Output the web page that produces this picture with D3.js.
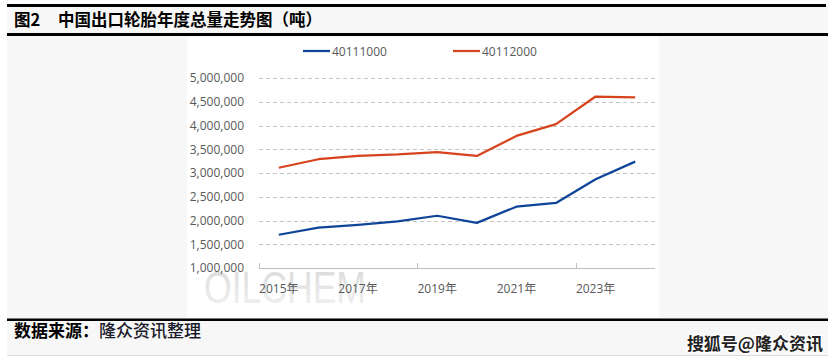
<!DOCTYPE html>
<html>
<head>
<meta charset="utf-8">
<script src="https://cdn.jsdelivr.net/npm/d3@7"></script>
<style>
  body { margin: 0; background: #ffffff; }
  svg { display: block; }
</style>
</head>
<body>
<script>
// data (tonnes)
var years = ["2015年", "2016年", "2017年", "2018年", "2019年", "2020年", "2021年", "2022年", "2023年", "2024年"];
var seriesNames = ["40111000", "40112000"];
var seriesColors = ["#0f4598", "#d7431d"];
var s40111000 = [1700000, 1850000, 1910000, 1980000, 2100000, 1950000, 2290000, 2370000, 2870000, 3240000];
var s40112000 = [3110000, 3290000, 3360000, 3390000, 3440000, 3360000, 3780000, 4030000, 4610000, 4590000];
var yTicks = [1000000, 1500000, 2000000, 2500000, 3000000, 3500000, 4000000, 4500000, 5000000];
var xLabels = ["2015年", "2017年", "2019年", "2021年", "2023年"];

var W = 836, H = 361;
var cjk = "'Noto Sans CJK SC', sans-serif";
var num = "'Open Sans', 'Noto Sans CJK SC', sans-serif";

var svg = d3.select("body").append("svg")
	.attr("width", W)
	.attr("height", H);

// page frame
svg.append("rect").attr("x", 7).attr("y", 4).attr("width", 821).attr("height", 351).attr("fill", "#f7f7f7");
svg.append("line").attr("x1", 7).attr("x2", 828).attr("y1", 355.5).attr("y2", 355.5).attr("stroke", "#dcdcdc");
svg.append("rect").attr("x", 187).attr("y", 37).attr("width", 472).attr("height", 281).attr("fill", "#ffffff");

svg.append("rect").attr("x", 7).attr("y", 4).attr("width", 819).attr("height", 3).attr("fill", "#000");
svg.append("rect").attr("x", 7).attr("y", 33).attr("width", 821).attr("height", 3).attr("fill", "#000");
svg.append("rect").attr("x", 7).attr("y", 318.5).attr("width", 821).attr("height", 2.5).attr("fill", "#000");

var title = svg.append("text")
	.attr("x", 14).attr("y", 26)
	.style("font-family", cjk).style("font-weight", 700).style("font-size", "16.5px")
	.attr("fill", "#000");
title.append("tspan").text("图2");
title.append("tspan").attr("x", 58).text("中国出口轮胎年度总量走势图（吨）");

var foot = svg.append("text")
	.attr("x", 14).attr("y", 337)
	.style("font-family", cjk).style("font-size", "17px")
	.attr("fill", "#000");
foot.append("tspan").style("font-weight", 700).text("数据来源：");
foot.append("tspan").style("font-weight", 500).attr("fill", "#1a1a2a").text("隆众资讯整理");

svg.append("text")
	.attr("x", 823).attr("y", 350)
	.attr("text-anchor", "end")
	.style("font-family", cjk).style("font-weight", 700).style("font-size", "17px")
	.attr("fill", "#222")
	.attr("stroke", "#ffffff").attr("stroke-width", 2.5).attr("paint-order", "stroke")
	.text("搜狐号@隆众资讯");

// watermark
var grad = svg.append("defs").append("linearGradient")
	.attr("id", "wm").attr("x1", 0).attr("x2", 0).attr("y1", 0).attr("y2", 1);
grad.append("stop").attr("offset", "0%").attr("stop-color", "#d9d9d9");
grad.append("stop").attr("offset", "100%").attr("stop-color", "#f2f2f2");

svg.append("text")
	.attr("x", 204).attr("y", 303)
	.attr("textLength", 162).attr("lengthAdjust", "spacingAndGlyphs")
	.style("font-family", "'Liberation Sans', sans-serif").style("font-size", "44px")
	.attr("fill", "url(#wm)")
	.text("OILCHEM");

// scales
var x = d3.scaleBand().domain(years).range([259, 655]);
var y = d3.scaleLinear().domain([1000000, 5000000]).range([268, 78]);

function cx(d) { return x(d) + x.bandwidth() / 2; }

// grid
svg.append("g").selectAll("line")
	.data(yTicks.slice(1))
	.enter().append("line")
	.attr("x1", 259).attr("x2", 655)
	.attr("y1", function(d) { return Math.round(y(d)) + 0.5; })
	.attr("y2", function(d) { return Math.round(y(d)) + 0.5; })
	.attr("stroke", "#c4c4c4")
	.attr("stroke-dasharray", "4,3");

// y axis labels (no axis line)
var yAxis = d3.axisLeft(y)
	.tickValues(yTicks)
	.tickSize(0)
	.tickPadding(0)
	.tickFormat(d3.format(","));

var yg = svg.append("g")
	.attr("transform", "translate(244,0)")
	.call(yAxis);
yg.select(".domain").remove();
yg.selectAll("text")
	.style("font-family", num).style("font-size", "12px")
	.attr("fill", "#595959");

// x axis
var xAxis = d3.axisBottom(x)
	.tickValues(xLabels)
	.tickSize(0)
	.tickPadding(16);

var xg = svg.append("g")
	.attr("transform", "translate(0,268)")
	.call(xAxis);
xg.select(".domain").attr("stroke", "#bfbfbf").attr("d", "M259,0.5H655");
xg.selectAll("text")
	.style("font-family", num).style("font-size", "12px")
	.attr("fill", "#595959");

// category tick marks every 4 categories
svg.append("g").selectAll("line")
	.data([years[0], years[4], years[8]])
	.enter().append("line")
	.attr("x1", function(d) { return Math.round(x(d)) + 0.5; })
	.attr("x2", function(d) { return Math.round(x(d)) + 0.5; })
	.attr("y1", 263).attr("y2", 268)
	.attr("stroke", "#bfbfbf");

// lines
var line = d3.line()
	.x(function(d, i) { return cx(years[i]); })
	.y(function(d) { return y(d); });

[s40111000, s40112000].forEach(function(s, k) {
	svg.append("path")
		.datum(s)
		.attr("fill", "none")
		.attr("stroke", seriesColors[k])
		.attr("stroke-width", 2.25)
		.attr("stroke-linejoin", "round")
		.attr("d", line);
});

// legend
var legendX = [303, 453];
seriesNames.forEach(function(n, k) {
	svg.append("line")
		.attr("x1", legendX[k]).attr("x2", legendX[k] + 27)
		.attr("y1", 51).attr("y2", 51)
		.attr("stroke", seriesColors[k]).attr("stroke-width", 2.25);
	svg.append("text")
		.attr("x", legendX[k] + 29).attr("y", 55.5)
		.style("font-family", num).style("font-size", "12px")
		.attr("fill", "#595959")
		.text(n);
});
</script>
</body>
</html>
